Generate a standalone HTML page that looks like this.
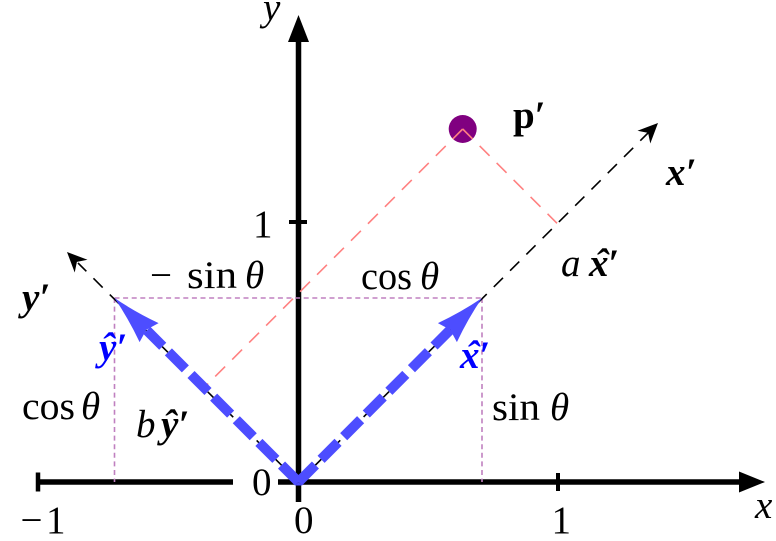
<!DOCTYPE html>
<html>
<head>
<meta charset="utf-8">
<style>
html,body{margin:0;padding:0;background:#fff;}
svg{display:block;}
text{font-family:"Liberation Serif","DejaVu Serif",serif;font-size:39px;fill:#000;}
.i{font-style:italic;}
.bi{font-style:italic;font-weight:bold;}
.b{font-weight:bold;}
.blue{fill:#0000ff;}
</style>
</head>
<body>
<svg width="776" height="541" viewBox="0 0 776 541" xmlns="http://www.w3.org/2000/svg">
<rect width="776" height="541" fill="#fff"/>

<!-- main axes -->
<g stroke="#000" fill="none">
  <line x1="38" y1="482" x2="742" y2="482" stroke-width="5.5"/>
  <line x1="298.5" y1="502" x2="298.5" y2="40" stroke-width="5.5"/>
  <line x1="38" y1="472.5" x2="38" y2="491.5" stroke-width="4.5"/>
  <line x1="558" y1="473" x2="558" y2="491" stroke-width="4"/>
  <line x1="289" y1="222" x2="307" y2="222" stroke-width="4"/>
</g>
<polygon points="765,482 739,471.5 739,492.5" fill="#000"/>
<polygon points="298.5,15 288,42 309,42" fill="#000"/>

<!-- purple dotted projection lines -->
<g stroke="#c080c0" stroke-width="1.6" stroke-dasharray="5 3.6" fill="none">
  <line x1="114.5" y1="298" x2="482" y2="298"/>
  <line x1="114.5" y1="298" x2="114.5" y2="482"/>
  <line x1="482" y1="298" x2="482" y2="482"/>
</g>

<!-- black dashed rotated axes -->
<g stroke="#000" stroke-width="1.6" stroke-dasharray="13 10" fill="none">
  <line x1="298.5" y1="482" x2="649" y2="132"/>
  <line x1="298.5" y1="482" x2="78" y2="263"/>
</g>
<path d="M658,123 L637.5,130.7 L648.1,132.9 L650.3,143.5 Z" fill="#000"/>
<path d="M67,252 L87.5,259.7 L76.9,261.9 L74.7,272.5 Z" fill="#000"/>

<!-- point p' -->
<circle cx="462.7" cy="129" r="14" fill="#800080"/>
<g stroke="#ff8080" stroke-width="1.6" stroke-dasharray="14 10" fill="none">
  <line x1="462.7" y1="129" x2="557" y2="223.3"/>
  <line x1="462.7" y1="129" x2="204.2" y2="387.5"/>
</g>

<!-- blue unit vectors -->
<g stroke="#4d4dff" stroke-width="10" stroke-dasharray="24 8" fill="none">
  <line x1="298.5" y1="482" x2="450.2" y2="329.8"/>
  <line x1="298.5" y1="482" x2="146.8" y2="330.3"/>
</g>
<polygon points="294.96,485.54 302.04,485.54 298.5,482" fill="#4d4dff"/>
<path d="M482,298 Q461.4,312 437.9,323.1 L450.2,329.8 L456.9,342.1 Q468,318.6 482,298 Z" fill="#4d4dff"/>
<path d="M114.5,298 Q128.5,318.6 139.6,342.1 L146.3,329.8 L158.6,323.1 Q135.1,312 114.5,298 Z" fill="#4d4dff"/>

<!-- labels -->
<rect x="233" y="466" width="45" height="32" fill="#fff"/>
<text x="252" y="495">0</text>

<text x="263" y="20" class="i">y</text>
<text x="253" y="237">1</text>

<text x="150" y="288">−</text>
<text x="187" y="288" textLength="50" lengthAdjust="spacingAndGlyphs">sin</text>
<text x="245" y="288" class="i">θ</text>

<text x="361" y="289" textLength="51" lengthAdjust="spacingAndGlyphs">cos</text>
<text x="420" y="289" class="i">θ</text>

<text x="22" y="419" textLength="53" lengthAdjust="spacingAndGlyphs">cos</text>
<text x="81" y="419" class="i">θ</text>

<text x="492" y="420" textLength="48" lengthAdjust="spacingAndGlyphs">sin</text>
<text x="550" y="420" class="i">θ</text>

<text x="22" y="310" class="bi">y′</text>
<text x="99" y="360" class="bi blue">ŷ′</text>

<text x="460" y="368" class="bi blue">x</text>
<text x="466" y="368" class="bi blue">ˆ</text>
<text x="479" y="368" class="bi blue">′</text>

<text x="136" y="437" class="i">b</text>
<text x="161" y="437" class="bi">ŷ′</text>

<text x="561" y="276" class="i">a</text>
<text x="589" y="276" class="bi">x</text>
<text x="595" y="276" class="bi">ˆ</text>
<text x="608" y="276" class="bi">′</text>

<text x="666" y="185" class="bi">x′</text>
<text x="513" y="128" class="b">p′</text>

<text x="20.5" y="533">−</text>
<text x="46" y="533">1</text>
<text x="294" y="533">0</text>
<text x="551.5" y="533">1</text>
<text x="755" y="518" class="i">x</text>
</svg>
</body>
</html>
